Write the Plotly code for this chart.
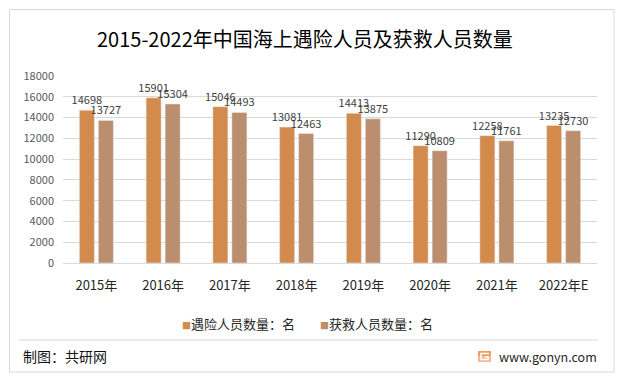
import plotly.graph_objects as go

categories = ["2015年", "2016年", "2017年", "2018年", "2019年", "2020年", "2021年", "2022年E"]
distress = [14698, 15901, 15046, 13081, 14413, 11290, 12258, 13235]
rescued = [13727, 15304, 14493, 12463, 13875, 10809, 11761, 12730]
series_names = ["遇险人员数量：名", "获救人员数量：名"]
colors = ["#D38B4D", "#BB8F6E"]
title_text = "2015-2022年中国海上遇险人员及获救人员数量"
source_text = "制图：共研网"
site_text = "www.gonyn.com"
y_ticks = list(range(0, 18001, 2000))

W, H = 622, 380
L, R, T, B = 63, 597, 76, 263
FONT = "Noto Sans CJK SC"


def px(x):
    return (x - L) / (R - L)


def py(y):
    return 1 - (y - T) / (B - T)


fig = go.Figure()
for name, vals, col in zip(series_names, [distress, rescued], colors):
    fig.add_trace(go.Bar(
        x=categories, y=vals, name=name, marker_color=col,
        text=[str(v) for v in vals], textposition="outside",
        textfont=dict(size=11, color="#404040", family=FONT),
        constraintext="none", cliponaxis=False, showlegend=False,
        hoverinfo="skip",
    ))

annotations = [
    dict(text=title_text, x=px(304.5), y=py(38.5), xref="paper", yref="paper",
         xanchor="center", yanchor="middle", showarrow=False,
         font=dict(size=20, color="#000000", family=FONT)),
    dict(text=source_text, x=px(21), y=py(356), xref="paper", yref="paper",
         xanchor="left", yanchor="middle", showarrow=False,
         font=dict(size=14, color="#111111", family=FONT)),
    dict(text=site_text, x=px(497), y=py(356), xref="paper", yref="paper",
         xanchor="left", yanchor="middle", showarrow=False,
         font=dict(size=12.5, color="#262626", family=FONT)),
]
legend_x = [180, 318]
for name, col, lx in zip(series_names, colors, legend_x):
    annotations.append(dict(
        text=f"<span style='color:{col};font-size:9px'>■</span>{name}",
        x=px(lx), y=py(323), xref="paper", yref="paper",
        xanchor="left", yanchor="middle", showarrow=False,
        font=dict(size=13, color="#262626", family=FONT)))

shapes = [
    dict(type="rect", xref="paper", yref="paper",
         x0=px(9.5), x1=px(614), y0=py(9.5), y1=py(372),
         line=dict(color="#D9D9D9", width=1), fillcolor="rgba(0,0,0,0)", layer="below"),
    dict(type="line", xref="paper", yref="paper",
         x0=px(19), x1=px(598), y0=py(340), y1=py(340),
         line=dict(color="#D9D9D9", width=1)),
    dict(type="rect", xref="paper", yref="paper",
         x0=px(478), x1=px(491), y0=py(351), y1=py(356.5),
         line=dict(width=0), fillcolor="#F39A5C"),
    dict(type="rect", xref="paper", yref="paper",
         x0=px(478), x1=px(491), y0=py(356.5), y1=py(362),
         line=dict(width=0), fillcolor="#F6B59E"),
    dict(type="path", xref="paper", yref="paper",
         path=(f"M {px(489)},{py(353.5)} L {px(481)},{py(353.5)} L {px(481)},{py(359.5)} "
               f"L {px(488)},{py(359.5)} L {px(488)},{py(357)} L {px(485)},{py(357)}"),
         line=dict(color="#FFFFFF", width=1.5)),
]

fig.update_layout(
    width=W, height=H,
    margin=dict(l=L, r=W - R, t=T, b=H - B, pad=0),
    paper_bgcolor="#FFFFFF", plot_bgcolor="#FFFFFF",
    barmode="group", bargap=0.43, bargroupgap=0.21,
    font=dict(family=FONT),
    annotations=annotations, shapes=shapes,
    xaxis=dict(
        showgrid=False, showline=True, linecolor="#D9D9D9", linewidth=1,
        ticks="", tickfont=dict(size=13, color="#262626", family=FONT),
        ticklabelstandoff=10, fixedrange=True,
    ),
    yaxis=dict(
        range=[0, 18000], tickvals=y_ticks, ticktext=[str(v) for v in y_ticks],
        showgrid=True, gridcolor="#D9D9D9", gridwidth=1, zeroline=False,
        showline=False, ticks="", tickfont=dict(size=11, color="#595959", family=FONT),
        ticklabelstandoff=8, fixedrange=True,
    ),
)

fig.write_html(
    "out.html",
    config={"displayModeBar": False, "staticPlot": True},
    post_script="document.body.style.margin='0px';document.body.style.overflow='hidden';",
)
